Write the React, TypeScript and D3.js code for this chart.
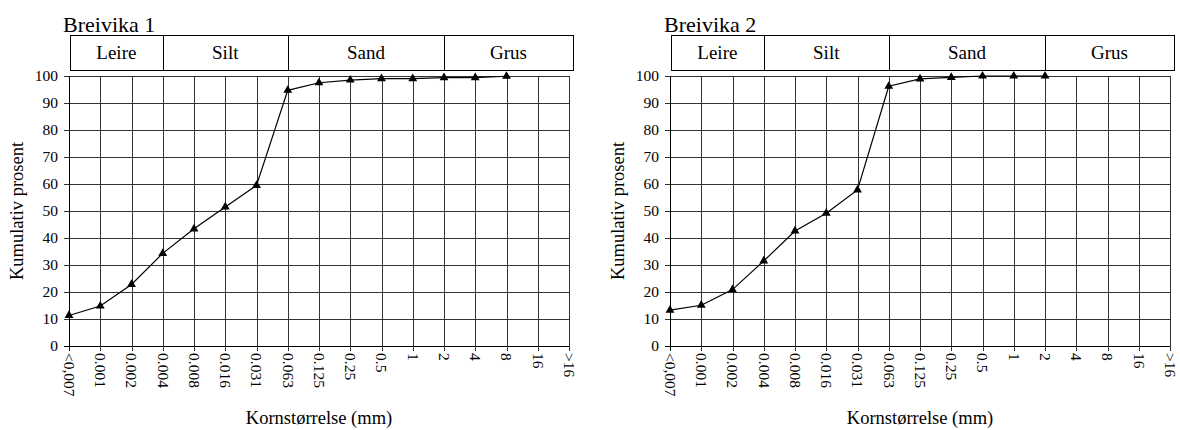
import React from 'react'
import * as d3 from 'd3'

// Kornfordeling — to paneler med kumulativ prosent mot kornstørrelse
const CATEGORIES = ['<0,007', '0.001', '0.002', '0.004', '0.008', '0.016', '0.031', '0.063', '0.125', '0.25', '0.5', '1', '2', '4', '8', '16', '>16']
const Y_TICKS = [0, 10, 20, 30, 40, 50, 60, 70, 80, 90, 100]
const FRACTIONS = ['Leire', 'Silt', 'Sand', 'Grus']
const FRACTION_BOUNDS = ['<0,007', '0.004', '0.063', '2', '>16']

const BREIVIKA_1 = [11.3, 14.8, 22.8, 34.3, 43.4, 51.5, 59.5, 94.7, 97.5, 98.5, 99.0, 99.0, 99.4, 99.4, 99.9]
const BREIVIKA_2 = [13.3, 15.1, 20.9, 31.5, 42.6, 49.2, 57.8, 96.2, 98.9, 99.5, 100, 100, 100]

const PANELS = [
  { title: 'Breivika 1', values: BREIVIKA_1, left: 69 },
  { title: 'Breivika 2', values: BREIVIKA_2, left: 670 },
]

const FONT = 'Liberation Serif, Times New Roman, DejaVu Serif, serif'
const PLOT_W = 500
const TOP = 76
const BOTTOM = 346
const BOX_TOP = 35
const BOX_BOTTOM = 70

function Panel({ title, values, left }: { title: string; values: number[]; left: number }) {
  const x = d3.scalePoint<string>().domain(CATEGORIES).range([left, left + PLOT_W]).padding(0)
  const y = d3.scaleLinear().domain([0, 100]).range([BOTTOM, TOP])

  const points = values.map((v, i) => ({ cat: CATEGORIES[i], v }))
  const line = d3.line<{ cat: string; v: number }>()
    .x((d) => x(d.cat)!)
    .y((d) => y(d.v))
  const tri = d3.symbol().type(d3.symbolTriangle).size(34)()

  const boxLeft = left + 1
  const boxRight = left + PLOT_W + 4
  const bound = (c: string, i: number) =>
    i === 0 ? boxLeft : i === FRACTION_BOUNDS.length - 1 ? boxRight : x(c)!

  return (
    <g style={{ fontFamily: FONT }} fill="#000">
      {/* title */}
      <text x={left - 6} y={32} fontSize={22}>{title}</text>

      {/* fraction header */}
      <rect x={boxLeft + 0.5} y={BOX_TOP + 0.5} width={boxRight - boxLeft} height={BOX_BOTTOM - BOX_TOP}
        fill="none" stroke="#000" strokeWidth={1} />
      {FRACTIONS.map((f, i) => {
        const a = bound(FRACTION_BOUNDS[i], i)
        const b = bound(FRACTION_BOUNDS[i + 1], i + 1)
        return (
          <g key={f}>
            {i > 0 && <line x1={Math.round(a) + 0.5} x2={Math.round(a) + 0.5} y1={BOX_TOP} y2={BOX_BOTTOM} stroke="#000" />}
            <text x={(a + b) / 2} y={59} fontSize={19} textAnchor="middle">{f}</text>
          </g>
        )
      })}

      {/* grid */}
      {Y_TICKS.map((t) => (
        <g key={t}>
          <line x1={left - 5} x2={left + PLOT_W} y1={Math.round(y(t)) + 0.5} y2={Math.round(y(t)) + 0.5}
            stroke={t === 0 ? '#000' : '#333'} strokeWidth={1} />
          <text x={left - 11} y={y(t)} dy="0.35em" fontSize={15.5} textAnchor="end">{t}</text>
        </g>
      ))}
      {CATEGORIES.map((c) => (
        <g key={c}>
          <line x1={Math.round(x(c)!) + 0.5} x2={Math.round(x(c)!) + 0.5} y1={TOP} y2={BOTTOM + 5}
            stroke={c === CATEGORIES[0] ? '#000' : '#333'} strokeWidth={1} />
          <text transform={`translate(${x(c)},${BOTTOM + 7}) rotate(90)`} dy="0.33em" fontSize={15.5}>{c}</text>
        </g>
      ))}

      {/* series */}
      <path d={line(points) ?? ''} fill="none" stroke="#000" strokeWidth={1.2} />
      {points.map((d) => (
        <path key={d.cat} d={tri ?? ''} transform={`translate(${x(d.cat)},${y(d.v)})`} fill="#000" />
      ))}

      {/* axis titles */}
      <text transform={`translate(${left - 46},${(TOP + BOTTOM) / 2}) rotate(-90)`} fontSize={18.5} textAnchor="middle">
        Kumulativ prosent
      </text>
      <text x={left + PLOT_W / 2} y={424} fontSize={18.5} textAnchor="middle">Kornstørrelse (mm)</text>
    </g>
  )
}

export default function App() {
  return (
    <svg width={1180} height={430} style={{ position: 'absolute', left: 0, top: 0, background: '#fff' }}>
      <rect width={1180} height={430} fill="#fff" />
      {PANELS.map((p) => (
        <Panel key={p.title} {...p} />
      ))}
    </svg>
  )
}
